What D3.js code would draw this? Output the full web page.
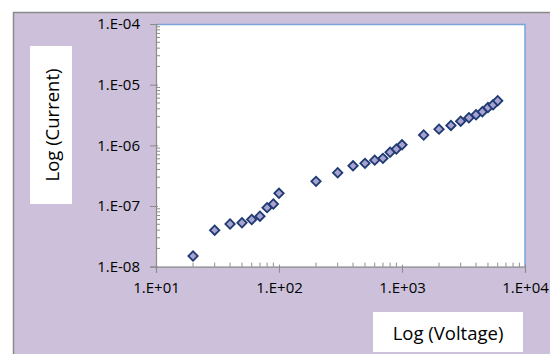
<!DOCTYPE html>
<html><head><meta charset="utf-8">
<script src="https://cdn.jsdelivr.net/npm/d3@7"></script>
<style>body{margin:0;background:#fff}svg{display:block}</style>
</head><body>
<svg id="c" width="550" height="354"></svg>
<script>
const voltage = [20,30,40,50,60,70,80,90,100,200,300,400,500,600,700,800,900,1000,1500,2000,2500,3000,3500,4000,4500,5000,5500,6000];
const current = [1.5e-8,4.0e-8,5.05e-8,5.3e-8,6.0e-8,6.8e-8,9.4e-8,1.08e-7,1.62e-7,2.55e-7,3.54e-7,4.6e-7,5.05e-7,5.7e-7,6.1e-7,7.7e-7,8.7e-7,1.02e-6,1.48e-6,1.85e-6,2.13e-6,2.5e-6,2.85e-6,3.19e-6,3.58e-6,4.2e-6,4.67e-6,5.43e-6];
const xTicks = [1e1,1e2,1e3,1e4];
const yTicks = [1e-8,1e-7,1e-6,1e-5,1e-4];
const xTitle = "Log (Voltage)";
const yTitle = "Log (Current)";

const svg = d3.select("#c");
const font = "'Open Sans', sans-serif";
// chart area background
svg.append("rect").attr("x",13.5).attr("y",12.5).attr("width",540).attr("height",345)
  .attr("fill","#ccc0da").attr("stroke","#8a8a8a").attr("stroke-width",1.5);

const L=156, R=525, T=24, B=266.7;
const x = d3.scaleLog().domain([1e1,1e4]).range([L,R]);
const y = d3.scaleLog().domain([1e-8,1e-4]).range([B,T]);

svg.append("rect").attr("x",L).attr("y",T).attr("width",R-L).attr("height",B-T).attr("fill","#fff");
// plot border top/right
svg.append("path").attr("d",`M${L},${T+0.5}H${R}V${B}`).attr("fill","none").attr("stroke","#7aa3d9").attr("stroke-width",1.5);

// minor ticks
const minorX=[], minorY=[];
for(let d=1; d<4; d++) for(let k=2;k<10;k++) minorX.push(k*Math.pow(10,d));
for(let d=-8; d<-4; d++) for(let k=2;k<10;k++) minorY.push(k*Math.pow(10,d));
const axisColor="#8c8c8c";
svg.append("g").selectAll("line").data(minorX).join("line")
  .attr("x1",d=>x(d)).attr("x2",d=>x(d)).attr("y1",B).attr("y2",B-4).attr("stroke",axisColor);
svg.append("g").selectAll("line").data(minorY).join("line")
  .attr("y1",d=>y(d)).attr("y2",d=>y(d)).attr("x1",L).attr("x2",L+4).attr("stroke",axisColor);

const fmt = d=>{const e=Math.round(Math.log10(d)); return "1.E"+(e<0?"-":"+")+String(Math.abs(e)).padStart(2,"0");};
const xa = d3.axisBottom(x).tickValues(xTicks).tickFormat(fmt).tickSize(6).tickPadding(10);
const ya = d3.axisLeft(y).tickValues(yTicks).tickFormat(fmt).tickSize(6).tickPadding(10);
const gx = svg.append("g").attr("transform",`translate(0,${B})`).call(xa);
const gy = svg.append("g").attr("transform",`translate(${L},0)`).call(ya);
[gx,gy].forEach(g=>{
  g.select(".domain").attr("stroke",axisColor).attr("stroke-width",1.2);
  g.selectAll(".tick line").attr("stroke",axisColor);
  g.selectAll("text").attr("font-family",font).attr("font-size",15).attr("fill","#000");
});
gx.selectAll(".tick line").attr("y1",-2);
gy.selectAll(".tick line").attr("x1",2);

// titles
svg.append("rect").attr("x",30).attr("y",46).attr("width",42).attr("height",158).attr("fill","#fff");
svg.append("text").attr("transform","translate(51,125) rotate(-90)").attr("text-anchor","middle")
  .attr("dominant-baseline","central").attr("font-family",font).attr("font-size",18.5).text(yTitle);
svg.append("rect").attr("x",373).attr("y",312).attr("width",150).attr("height",40).attr("fill","#fff");
svg.append("text").attr("x",448).attr("y",332).attr("text-anchor","middle")
  .attr("dominant-baseline","central").attr("font-family",font).attr("font-size",18.5).text(xTitle);

// points
const sym = d3.symbol().type(d3.symbolSquare).size(44);
svg.append("g").selectAll("path").data(voltage).join("path")
  .attr("d",sym)
  .attr("transform",(d,i)=>`translate(${x(d)},${y(current[i])}) rotate(45)`)
  .attr("fill","#a7a2cf").attr("stroke","#1f3a73").attr("stroke-width",1.8);
</script>
</body></html>
